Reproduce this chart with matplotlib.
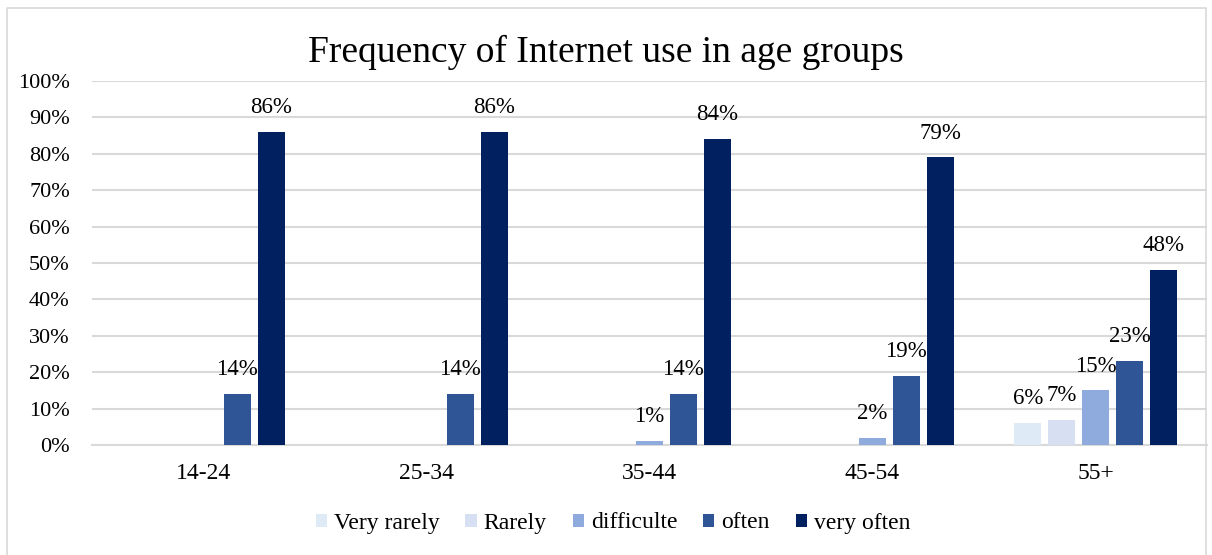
import numpy as np
import matplotlib.pyplot as plt
from matplotlib.lines import Line2D
from matplotlib.ticker import PercentFormatter

plt.rcParams['font.family'] = ['Liberation Serif', 'DejaVu Serif']

# age groups and answer share per frequency level (%)
groups = ['14-24', '25-34', '35-44', '45-54', '55+']
series = ['Very rarely', 'Rarely', 'difficulte', 'often', 'very often']
very_rarely = [0, 0, 0, 0, 6]
rarely = [0, 0, 0, 0, 7]
difficulte = [0, 0, 1, 2, 15]
often = [14, 14, 14, 19, 23]
very_often = [86, 86, 84, 79, 48]
colors = ['#deebf7', '#d6e0f2', '#8faadc', '#2f5597', '#002060']

values = [very_rarely, rarely, difficulte, often, very_often]

fig = plt.figure(figsize=(12.12, 5.55), dpi=100)
ax = fig.add_axes([92/1212, 1 - 445/555, 1115/1212, 364/555])

# outer chart frame (left, top, right edges)
W, H = 1212, 555
fx = [7/W, 7/W, 1206/W, 1206/W]
fy = [0, 1 - 8/H, 1 - 8/H, 0]
fig.lines.append(Line2D(fx, fy, transform=fig.transFigure,
                        color='#d9d9d9', linewidth=1.2))

x = np.arange(len(groups))
pitch = 0.152
width = 0.121
for i, (name, vals, c) in enumerate(zip(series, values, colors)):
    pos = x + (i - 2) * pitch
    bars = ax.bar(pos, vals, width, color=c, label=name, zorder=3)
    for b, v in zip(bars, vals):
        if v > 0:
            ax.annotate(f'{v}%', (b.get_x() + b.get_width() / 2, v),
                        xytext=(0, 10), textcoords='offset points',
                        ha='center', va='bottom', fontsize=16.5)

ax.set_xlim(-0.5, len(groups) - 0.5)
ax.set_ylim(0, 100)
ax.set_yticks(np.arange(0, 101, 10))
ax.yaxis.set_major_formatter(PercentFormatter(decimals=0))
ax.set_xticks(x)
ax.set_xticklabels(groups)
ax.tick_params(axis='both', length=0)
ax.tick_params(axis='y', pad=16, labelsize=16)
ax.tick_params(axis='x', pad=13, labelsize=17)
ax.grid(axis='y', color='#d9d9d9', linewidth=1.5, zorder=0)
for s in ['top', 'left', 'right']:
    ax.spines[s].set_visible(False)
ax.spines['bottom'].set_color('#d9d9d9')
ax.spines['bottom'].set_linewidth(1.5)

fig.text(0.4995, 1 - 52/555, 'Frequency of Internet use in age groups',
         ha='center', va='center', fontsize=27)

fig.legend(loc='center', bbox_to_anchor=(613/1212, 1 - 523/555), ncol=5,
           frameon=False, fontsize=17, handlelength=0.47, handleheight=0.47,
           handletextpad=0.3, columnspacing=1.1)

fig.savefig('out.png', dpi=100)
